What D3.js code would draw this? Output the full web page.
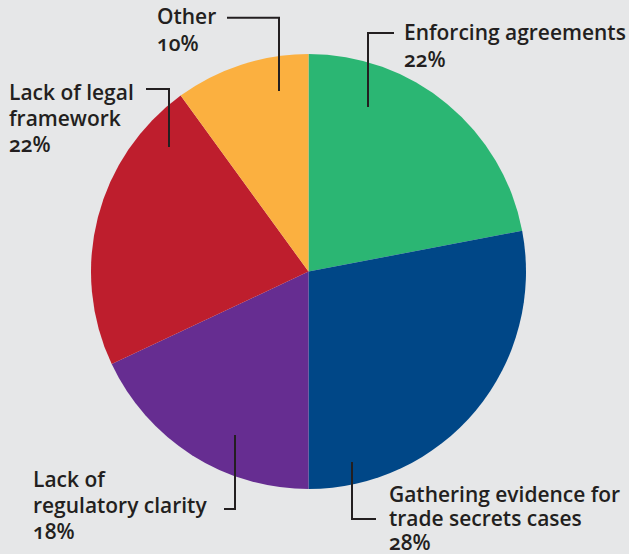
<!DOCTYPE html>
<html>
<head>
<meta charset="utf-8">
<script src="https://cdn.jsdelivr.net/npm/d3@7/dist/d3.min.js"></script>
<style>
  html, body { margin: 0; padding: 0; background: #e6e7e8; }
  svg { display: block; }
  .lbl { font-family: "Open Sans", Lato, sans-serif; font-weight: 600; font-size: 20px; fill: #231f20; font-variant-numeric: oldstyle-nums; font-feature-settings: "onum" 1; }
</style>
</head>
<body>
<svg id="chart" width="629" height="554"></svg>
<script>
// ---- data ----
const categories = ["Enforcing agreements", "Gathering evidence for trade secrets cases", "Lack of regulatory clarity", "Lack of legal framework", "Other"];
const values = [22, 28, 18, 22, 10];
const labelLines = [
  ["Enforcing agreements"],
  ["Gathering evidence for", "trade secrets cases"],
  ["Lack of", "regulatory clarity"],
  ["Lack of legal", "framework"],
  ["Other"]
];

// ---- styles / layout ----
const colors = ["#2bb673", "#004787", "#662d91", "#be1e2d", "#fbb040"];
const W = 629, H = 554;
const cx = 308.5, cy = 271.5, R = 217.5;
const refWidth = 222; // width of "Enforcing agreements" in the reference
// label layout: text left x, first baseline y, line height, leader polyline
const layout = [
  { x: 404, y: 40, lh: 26.5, leader: [[394, 33], [368, 33], [368, 107]] },
  { x: 389, y: 501.5, lh: 24, leader: [[376, 519], [352, 519], [352, 462]] },
  { x: 33, y: 486.5, lh: 26, leader: [[224, 509], [235, 509], [235, 435]] },
  { x: 9, y: 100, lh: 25.8, leader: [[146, 89], [169, 89], [169, 147]] },
  { x: 157, y: 24, lh: 26.5, leader: [[227, 17.7], [279, 17.7], [279, 91]] }
];

const svg = d3.select("#chart");
svg.append("rect").attr("width", W).attr("height", H).attr("fill", "#e6e7e8");

const data = categories.map((c, i) => ({ cat: c, value: values[i], i }));
const pie = d3.pie().sort(null).value(d => d.value);
const arc = d3.arc().innerRadius(0).outerRadius(R);

const g = svg.append("g").attr("transform", `translate(${cx},${cy})`);
g.selectAll("path").data(pie(data)).join("path")
  .attr("d", arc)
  .attr("fill", d => colors[d.data.i]);

// leaders
const line = d3.line();
svg.append("g").selectAll("path").data(layout).join("path")
  .attr("d", d => line(d.leader))
  .attr("fill", "none")
  .attr("stroke", "#231f20")
  .attr("stroke-width", 2);

// font size calibration
const probe = svg.append("text").attr("class", "lbl").text("Enforcing agreements");
const fs = 20 * refWidth / probe.node().getComputedTextLength();
probe.remove();

// labels
const lg = svg.append("g");
data.forEach((d, i) => {
  const L = layout[i];
  const t = lg.append("text").attr("class", "lbl").style("font-size", fs + "px");
  const lines = labelLines[i].concat([d.value + "%"]);
  lines.forEach((s, k) => {
    t.append("tspan").attr("x", L.x).attr("y", L.y + k * L.lh).text(s);
  });
});
</script>
</body>
</html>
